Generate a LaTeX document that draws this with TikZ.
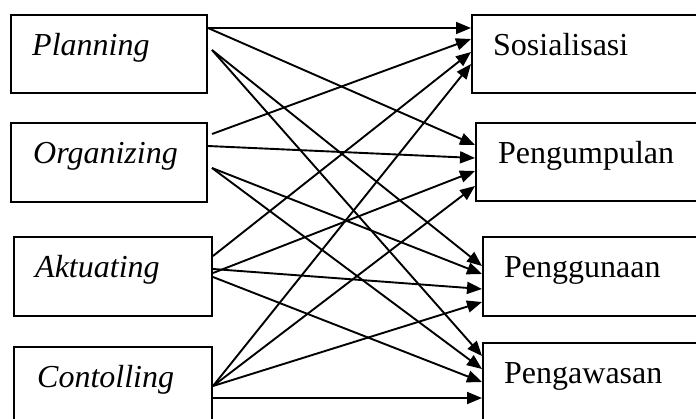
\documentclass[tikz,border=0pt]{standalone}
\usepackage{fontspec}
\setmainfont{Liberation Serif}
\usetikzlibrary{arrows.meta,calc}

\tikzset{
  box/.style={draw, line width=2pt, rectangle, inner sep=0pt},
  lbl/.style={anchor=base west, inner sep=0pt, font=\fontsize{32}{38}\selectfont},
  arr/.style={line width=1.9pt, -{Triangle[length=15pt,width=12pt]}},
}

\begin{document}
\begin{tikzpicture}[x=1pt,y=-1pt]
  \useasboundingbox (0,0) rectangle (696,418);
  \clip (0,0) rectangle (696,418);

  % left column: management functions
  \node[box, minimum width=196pt, minimum height=78pt] (P) at (109,54) {};
  \node[box, minimum width=196pt, minimum height=79pt] (O) at (109,162.5) {};
  \node[box, minimum width=198pt, minimum height=79pt] (A) at (113,276.5) {};
  \node[box, minimum width=198pt, minimum height=79pt] (C) at (113,386.5) {};

  \node[lbl] (Pt) at (32,55)  {\itshape Planning};
  \node[lbl] (Ot) at (33,163) {\itshape Organizing};
  \node[lbl] (At) at (35,277) {\itshape Aktuating};
  \node[lbl] (Ct) at (37,387) {\itshape Contolling};

  % right column: activities
  \node[box, minimum width=240pt, minimum height=78pt] (S)  at (592,54) {};
  \node[box, minimum width=240pt, minimum height=78pt] (Pg) at (596,162) {};
  \node[box, minimum width=240pt, minimum height=79pt] (Pu) at (603,276.5) {};
  \node[box, minimum width=240pt, minimum height=79pt] (Pw) at (603,382.5) {};

  \node[lbl] (St)  at (493,55)  {Sosialisasi};
  \node[lbl] (Pgt) at (498,163) {Pengumpulan};
  \node[lbl] (Put) at (504,277) {Penggunaan};
  \node[lbl] (Pwt) at (504,383) {Pengawasan};

  % ports on the left boxes
  \coordinate (P1) at ($(P.north east)+(0,14)$);
  \coordinate (P2) at ($(P.north east)+(4,36)$);
  \coordinate (O1) at ($(O.north east)+(4,12)$);
  \coordinate (O2) at ($(O.north east)+(0,24)$);
  \coordinate (O3) at ($(O.north east)+(4,46)$);
  \coordinate (A1) at ($(A.north east)+(0,20)$);
  \coordinate (A2) at ($(A.north east)+(0,37)$);
  \coordinate (A3) at ($(A.north east)+(0,33)$);
  \coordinate (A4) at ($(A.north east)+(0,41)$);
  \coordinate (C1) at ($(C.north east)+(0,40)$);
  \coordinate (C2) at ($(C.north east)+(0,52)$);

  % ports on the right boxes
  \coordinate (S1) at ($(S.north west)+(0,14)$);
  \coordinate (S2) at ($(S.north west)+(0,25)$);
  \coordinate (S3) at ($(S.north west)+(0,38)$);
  \coordinate (S4) at ($(S.north west)+(0,50)$);
  \coordinate (G1) at ($(Pg.north west)+(0,23)$);
  \coordinate (G2) at ($(Pg.north west)+(0,36)$);
  \coordinate (G3) at ($(Pg.north west)+(0,49)$);
  \coordinate (G4) at ($(Pg.north west)+(0,64)$);
  \coordinate (U1) at ($(Pu.north west)+(0,30)$);
  \coordinate (U2) at ($(Pu.north west)+(0,38)$);
  \coordinate (U3) at ($(Pu.north west)+(0,53)$);
  \coordinate (U4) at ($(Pu.north west)+(0,66)$);
  \coordinate (W1) at ($(Pw.north west)+(0,14)$);
  \coordinate (W2) at ($(Pw.north west)+(0,27)$);
  \coordinate (W3) at ($(Pw.north west)+(0,40)$);
  \coordinate (W4) at ($(Pw.north west)+(0,56)$);

  % Planning
  \draw[arr] (P1) -- (S1);
  \draw[arr] (P1) -- (G1);
  \draw[arr] (P2) -- (U1);
  \draw[arr] (P2) -- (W1);
  % Organizing
  \draw[arr] (O1) -- (S2);
  \draw[arr] (O2) -- (G2);
  \draw[arr] (O3) -- (U2);
  \draw[arr] (O3) -- (W2);
  % Aktuating
  \draw[arr] (A1) -- (S3);
  \draw[arr] (A2) -- (G3);
  \draw[arr] (A3) -- (U3);
  \draw[arr] (A4) -- (W3);
  % Contolling
  \draw[arr] (C1) -- (S4);
  \draw[arr] (C1) -- (G4);
  \draw[arr] (C1) -- (U4);
  \draw[arr] (C2) -- (W4);
\end{tikzpicture}
\end{document}
